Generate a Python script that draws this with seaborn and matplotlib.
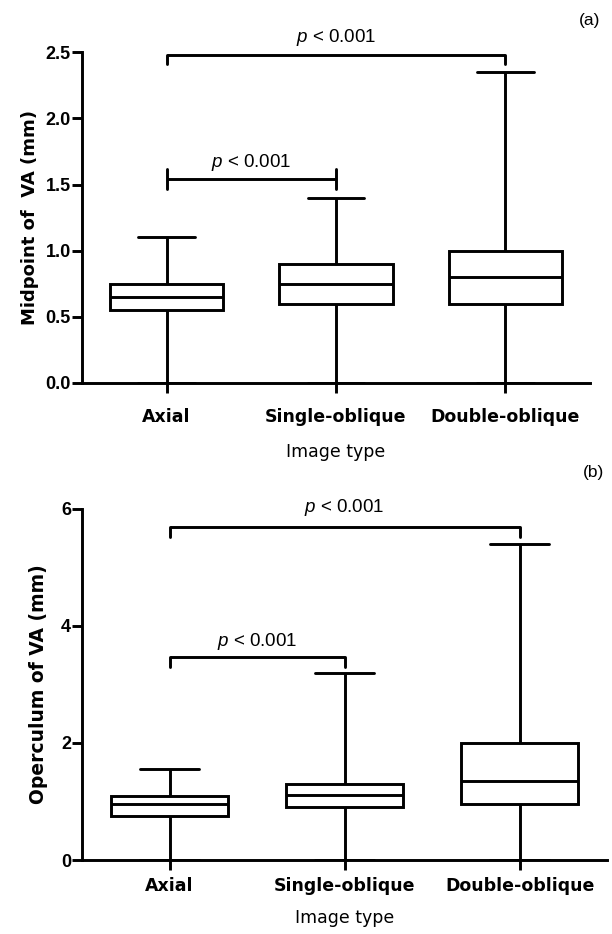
import numpy as np
import pandas as pd
import matplotlib
matplotlib.use("Agg")
import matplotlib.pyplot as plt
import seaborn as sns

categories = ["Axial", "Single-oblique", "Double-oblique"]

# five-number summaries (min, q1, median, q3, max) per category
mid_min = [0.0, 0.0, 0.0]
mid_q1 = [0.55, 0.60, 0.60]
mid_med = [0.65, 0.75, 0.80]
mid_q3 = [0.75, 0.90, 1.00]
mid_max = [1.10, 1.40, 2.35]

op_min = [0.0, 0.0, 0.0]
op_q1 = [0.75, 0.90, 0.96]
op_med = [0.95, 1.11, 1.35]
op_q3 = [1.10, 1.30, 2.00]
op_max = [1.55, 3.20, 5.40]

# significance brackets: (left category, right category, height, end drop, text y, end style)
brackets_a = [(0, 2, 2.48, 0.07, 2.61, "top"), (0, 1, 1.54, 0.07, 1.67, "both")]
brackets_b = [(0, 2, 5.69, 0.17, 6.02, "top"), (0, 1, 3.47, 0.17, 3.74, "top")]
p_label = "< 0.001"


def long_df(mins, q1s, meds, q3s, maxs):
    rows = []
    for c, a, b, m, d, e in zip(categories, mins, q1s, meds, q3s, maxs):
        for v in (a, b, m, d, e):
            rows.append({"Image type": c, "value": v})
    return pd.DataFrame(rows)


sns.set_theme(style="ticks")
plt.rcParams["font.family"] = ["DejaVu Sans"]
plt.rcParams["text.color"] = "black"
plt.rcParams["axes.labelcolor"] = "black"
plt.rcParams["xtick.color"] = "black"
plt.rcParams["ytick.color"] = "black"
plt.rcParams["mathtext.fontset"] = "custom"
plt.rcParams["mathtext.it"] = "Liberation Sans:italic"
plt.rcParams["mathtext.rm"] = "Liberation Sans"

fig = plt.figure(figsize=(6.12, 9.34), dpi=100)
ax_a = fig.add_axes([0.134, 0.590, 0.830, 0.354])
ax_b = fig.add_axes([0.134, 0.0792, 0.858, 0.376])

lw = 2.1


def draw(ax, df, ylim, yticks, yticklabels, ylabel, brackets, ylabelpad,
         xtickpad, xlabelpad, ylabelsize):
    sns.boxplot(data=df, x="Image type", y="value", order=categories,
                whis=(0, 100), width=0.67, color="white", linecolor="black",
                saturation=1, linewidth=lw, fill=True, showfliers=False, ax=ax)
    ax.set_xlim(-0.5, 2.5)
    ax.set_ylim(*ylim)
    ax.set_yticks(yticks)
    ax.set_yticklabels(yticklabels, fontweight="bold", fontsize=13,
                       family="Liberation Sans")
    ax.set_xticks(range(len(categories)))
    ax.set_xticklabels(categories, fontweight="bold", fontsize=12.5)
    ax.set_ylabel(ylabel, fontweight="bold", fontsize=ylabelsize,
                  labelpad=ylabelpad)
    ax.set_xlabel("Image type", fontsize=12.5, labelpad=xlabelpad)
    for s in ["top", "right"]:
        ax.spines[s].set_visible(False)
    for s in ["left", "bottom"]:
        ax.spines[s].set_linewidth(lw)
        ax.spines[s].set_color("black")
    ax.tick_params(axis="y", length=7, width=lw, color="black", pad=1)
    ax.tick_params(axis="x", length=7, width=lw, color="black", pad=xtickpad)
    for (x0, x1, h, drop, ty, kind) in brackets:
        ax.plot([x0, x1], [h, h], color="black", lw=lw, clip_on=False,
                solid_capstyle="butt")
        for xe in (x0, x1):
            if kind == "both":
                ax.plot([xe, xe], [h - drop, h + drop * 1.1], color="black",
                        lw=lw, clip_on=False)
            else:
                ax.plot([xe, xe], [h, h - drop], color="black", lw=lw,
                        clip_on=False)
        ax.text((x0 + x1) / 2, ty, r"$p$ " + p_label, ha="center", va="center",
                fontsize=13.5, family="Liberation Sans", clip_on=False)


df_a = long_df(mid_min, mid_q1, mid_med, mid_q3, mid_max)
df_b = long_df(op_min, op_q1, op_med, op_q3, op_max)

draw(ax_a, df_a, (0, 2.5), [0.0, 0.5, 1.0, 1.5, 2.0, 2.5],
     ["0.0", "0.5", "1.0", "1.5", "2.0", "2.5"], "Midpoint of  VA (mm)",
     brackets_a, 5, 11, 12, 13)
draw(ax_b, df_b, (0, 6), [0, 2, 4, 6], ["0", "2", "4", "6"],
     "Operculum of VA (mm)", brackets_b, 9, 5, 10, 13.5)

fig.text(0.963, 0.978, "(a)", fontsize=12.5, family="Liberation Sans",
         ha="center", va="center")
fig.text(0.970, 0.494, "(b)", fontsize=12.5, family="Liberation Sans",
         ha="center", va="center")

fig.savefig("out.png", dpi=100, facecolor="white")
